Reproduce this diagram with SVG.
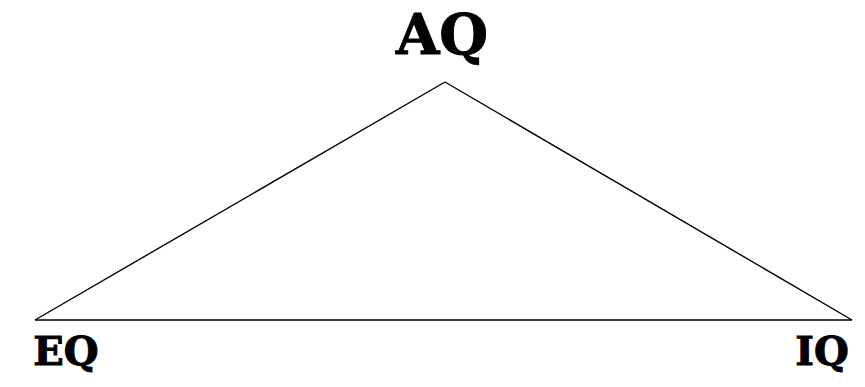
<svg xmlns="http://www.w3.org/2000/svg" width="865" height="387" viewBox="0 0 865 387">
<style>
.lbl{font-family:"DejaVu Serif","Liberation Serif",serif;font-weight:bold;fill:#000;stroke:#000;stroke-width:1}
.edge{stroke:#000;stroke-width:1.4;fill:none}
</style>
<rect width="865" height="387" fill="#fff"/>
<g id="connectors">
<line class="edge" x1="445" y1="82" x2="35" y2="320"/>
<line class="edge" x1="445" y1="82" x2="852" y2="320"/>
<line class="edge" x1="35" y1="320" x2="852" y2="320"/>
</g>
<g id="AQ"><text class="lbl" x="442" y="54" font-size="56" text-anchor="middle">AQ</text></g>
<g id="EQ"><text class="lbl" x="66" y="365" font-size="40" text-anchor="middle">EQ</text></g>
<g id="IQ"><text class="lbl" x="822" y="365" font-size="40" text-anchor="middle">IQ</text></g>
</svg>
